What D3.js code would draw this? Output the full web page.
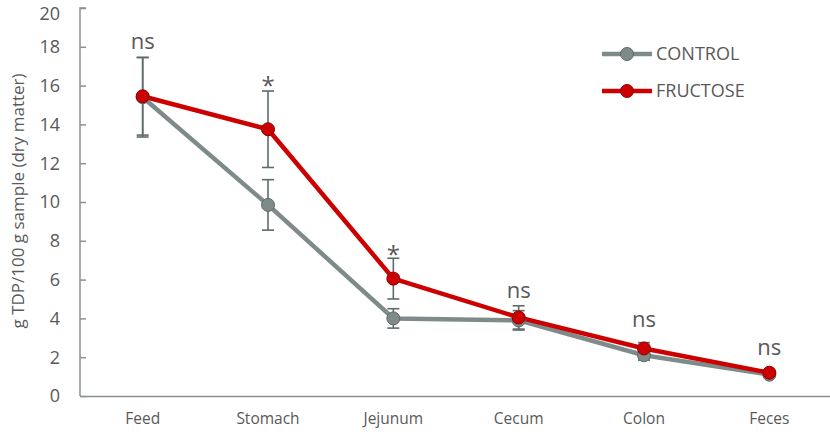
<!DOCTYPE html>
<html>
<head>
<meta charset="utf-8">
<script src="https://cdn.jsdelivr.net/npm/d3@7"></script>
<style>
  body { margin: 0; background: #fff; }
  text { font-family: "Open Sans", Lato, sans-serif; fill: #595959; }
</style>
</head>
<body>
<div id="chart"></div>
<script>
// data
var sites = ["Feed", "Stomach", "Jejunum", "Cecum", "Colon", "Feces"];
var controlVals = [15.4, 9.85, 4.0, 3.9, 2.1, 1.1];
var controlErr = [2.05, 1.3, 0.5, 0.5, 0.25, 0.1];
var fructoseVals = [15.45, 13.75, 6.05, 4.05, 2.45, 1.2];
var fructoseErr = [2.0, 1.97, 1.05, 0.6, 0.3, 0.1];
var sigLabels = ["ns", "*", "*", "ns", "ns", "ns"];
var sigAt = [18.25, 16.3, 7.6, 5.4, 3.9, 2.45];
var yTicks = [0, 2, 4, 6, 8, 10, 12, 14, 16, 18, 20];

var svgWidth = 830;
var svgHeight = 435;

var svg = d3.select("#chart")
  .append("svg")
  .attr("width", svgWidth)
  .attr("height", svgHeight);

var x = d3.scaleBand().domain(sites).range([80, 832]);
var y = d3.scaleLinear().domain([0, 20]).range([396, 8]);

var axisColor = "#8a9391";

// y axis with inner ticks
var yAxis = svg.append("g")
  .attr("transform", "translate(80,0)")
  .call(d3.axisRight(y).tickValues(yTicks).tickSize(6).tickFormat(""));
yAxis.select(".domain").attr("stroke", axisColor).attr("stroke-width", 1.5)
  .attr("d", "M6," + y(20) + "H0V" + y(0));
yAxis.selectAll(".tick line").attr("stroke", axisColor).attr("stroke-width", 1.5);

// top label nudged down a little so it is not clipped
svg.append("g").selectAll("text")
  .data(yTicks)
  .join("text")
  .attr("x", 60)
  .attr("y", d => Math.max(y(d), 14))
  .attr("dy", "0.36em")
  .attr("text-anchor", "end")
  .style("font-size", "18px")
  .text(d => d);

// x axis
var xAxis = svg.append("g")
  .attr("transform", "translate(0," + y(0) + ")")
  .call(d3.axisBottom(x).tickSize(0).tickPadding(17));
xAxis.select(".domain").attr("stroke", axisColor).attr("stroke-width", 1.5);
xAxis.selectAll("text")
  .style("font-size", "15.5px")
  .style("fill", "#595959")
  .style("font-family", "'Open Sans', Lato, sans-serif");

// y axis title
svg.append("text")
  .attr("transform", "translate(18," + 201 + ")rotate(-90)")
  .attr("text-anchor", "middle")
  .attr("dy", "0.35em")
  .style("font-size", "17px")
  .text("g TDP/100 g sample (dry matter)");

var series = [
  { name: "CONTROL", vals: controlVals, err: controlErr, color: "#7f8b8a", edge: "#5f6968" },
  { name: "FRUCTOSE", vals: fructoseVals, err: fructoseErr, color: "#cc0000", edge: "#8f0000" }
];

var line = d3.line()
  .x((d, i) => x(sites[i]) + x.bandwidth() / 2)
  .y(d => y(d));

series.forEach(function(s) {
  svg.append("path")
    .datum(s.vals)
    .attr("fill", "none")
    .attr("stroke", s.color)
    .attr("stroke-width", 4.5)
    .attr("stroke-linejoin", "round")
    .attr("d", line);
});

// error bars
series.forEach(function(s) {
  var g = svg.append("g");
  s.vals.forEach(function(v, i) {
    var cx = x(sites[i]) + x.bandwidth() / 2;
    var top = y(v + s.err[i]);
    var bot = y(v - s.err[i]);
    g.append("line").attr("x1", cx).attr("x2", cx).attr("y1", top).attr("y2", bot)
      .attr("stroke", "#5f6b6a").attr("stroke-width", 1.6);
    [top, bot].forEach(function(yy) {
      g.append("line").attr("x1", cx - 6).attr("x2", cx + 6).attr("y1", yy).attr("y2", yy)
        .attr("stroke", "#5f6b6a").attr("stroke-width", 1.6);
    });
  });
});

// markers
series.forEach(function(s) {
  svg.append("g").selectAll("circle")
    .data(s.vals)
    .join("circle")
    .attr("cx", (d, i) => x(sites[i]) + x.bandwidth() / 2)
    .attr("cy", d => y(d))
    .attr("r", 6.5)
    .attr("fill", s.color)
    .attr("stroke", s.edge)
    .attr("stroke-width", 1);
});

// significance labels
svg.append("g").selectAll("text")
  .data(sigLabels)
  .join("text")
  .attr("x", (d, i) => x(sites[i]) + x.bandwidth() / 2)
  .attr("y", (d, i) => y(sigAt[i]))
  .attr("text-anchor", "middle")
  .attr("dy", d => d === "*" ? "0.6em" : "0.3em")
  .style("font-size", d => d === "*" ? "24px" : "22px")
  .text(d => d);

// legend
var legend = svg.append("g");
series.forEach(function(s, i) {
  var ly = 54 + i * 37;
  legend.append("line").attr("x1", 602).attr("x2", 652).attr("y1", ly).attr("y2", ly)
    .attr("stroke", s.color).attr("stroke-width", 4.5);
  legend.append("circle").attr("cx", 627).attr("cy", ly).attr("r", 6.5)
    .attr("fill", s.color).attr("stroke", s.edge).attr("stroke-width", 1);
  legend.append("text").attr("x", 656).attr("y", ly).attr("dy", "0.36em")
    .style("font-size", "18px").text(s.name);
});
</script>
</body>
</html>
